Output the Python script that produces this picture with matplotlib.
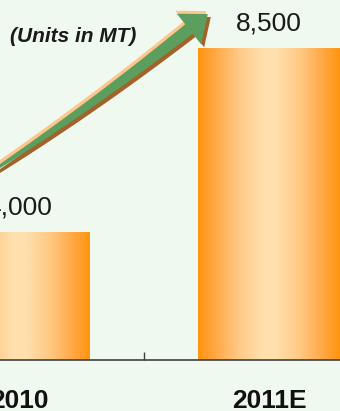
import numpy as np
import matplotlib.pyplot as plt
from matplotlib.colors import LinearSegmentedColormap
from matplotlib.patches import Polygon

# chart data
years = ['2010', '2011E']
volumes_mt = [4000, 8500]
units_note = '(Units in MT)'

BG = '#eff9ef'
XLIM = (-0.076, 1.284)
YLIM = (894, 9671)
plt.rcParams['font.family'] = ['Liberation Sans', 'DejaVu Sans']

bar_cmap = LinearSegmentedColormap.from_list('bar', [
    (0.00, '#ff9410'), (0.13, '#ffaa48'), (0.30, '#ffcb8a'),
    (0.45, '#ffdfac'), (0.56, '#ffdfac'), (0.72, '#ffc882'),
    (0.88, '#ffa844'), (1.00, '#ff9410')])


def bezier(p0, p1, p2, t):
    t = np.asarray(t)[:, None]
    return (1 - t) ** 2 * p0 + 2 * (1 - t) * t * p1 + t ** 2 * p2


def arrow_points(dx=0.0, dy=0.0):
    # growth arrow outline, in figure pixels (y down)
    p0, p1, p2 = np.array([-12., 174.]), np.array([92., 106.]), np.array([189., 29.])
    t = np.linspace(0, 1, 60)
    pts = bezier(p0, p1, p2, t)
    tan = 2 * (1 - t)[:, None] * (p1 - p0) + 2 * t[:, None] * (p2 - p1)
    tan /= np.linalg.norm(tan, axis=1)[:, None]
    nrm = np.column_stack([-tan[:, 1], tan[:, 0]])
    hw = (1.2 + 4.8 * t ** 0.8)[:, None]
    upper = pts - hw * nrm
    lower = pts + hw * nrm
    u, n = tan[-1], nrm[-1]
    head = [p2 - 19.5 * n, p2 + 24 * u, p2 + 19.5 * n]
    poly = np.vstack([upper, head, lower[::-1]])
    return poly + np.array([dx, dy])


fig = plt.figure(figsize=(3.4, 4.11), dpi=100)
fig.patch.set_facecolor(BG)
ax = fig.add_axes([0, 0.1253, 1, 0.8747])
ax.set_facecolor(BG)

x = np.arange(len(years))
bars = ax.bar(x, volumes_mt, width=0.568, color='none', edgecolor='none')

grad = np.linspace(0, 1, 256)[None, :]
for b in bars:
    im = ax.imshow(grad, cmap=bar_cmap, aspect='auto', interpolation='bilinear',
                   extent=[b.get_x(), b.get_x() + b.get_width(),
                           YLIM[0], b.get_height()], zorder=2)
    im.set_clip_path(b)

ax.bar_label(bars, labels=[f'{v:,}' for v in volumes_mt], padding=9,
             fontsize=19, color='#1a1a1a')

for side in ('left', 'right', 'top'):
    ax.spines[side].set_visible(False)
ax.spines['bottom'].set_color('#404040')
ax.spines['bottom'].set_linewidth(1.2)
ax.set_yticks([])
ax.set_xticks([-0.5, 0.5, 1.5])
ax.set_xticklabels([])
ax.tick_params(axis='x', which='major', direction='in', length=6, width=1,
               color='#404040')
ax.set_xticks(x, minor=True)
ax.set_xticklabels(years, minor=True, fontsize=19, fontweight='bold',
                   color='#111111')
ax.tick_params(axis='x', which='minor', length=0, pad=21)
ax.set_xlim(*XLIM)
ax.set_ylim(*YLIM)

fig.text(73.5 / 340, 1 - 36.5 / 411, units_note, ha='center', va='center',
         fontsize=15, fontweight='bold', fontstyle='italic', color='#1a1a1a')

# decorative growth arrow in pixel space
ov = fig.add_axes([0, 0, 1, 1])
ov.set_xlim(0, 340)
ov.set_ylim(411, 0)
ov.axis('off')
ov.patch.set_alpha(0)
ov.add_patch(Polygon(arrow_points(3, 3), closed=True, fc='#a2622a', ec='none'))
ov.add_patch(Polygon(arrow_points(-1.5, -3), closed=True, fc='#ffc58c', ec='none'))
ov.add_patch(Polygon(arrow_points(), closed=True, fc='#5c9e5e', ec='none'))

fig.savefig('out.png', dpi=100, facecolor=BG)
